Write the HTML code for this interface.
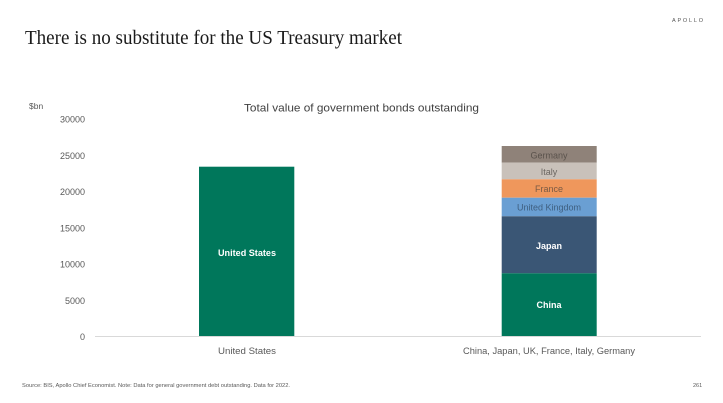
<!DOCTYPE html>
<html><head><meta charset="utf-8"><style>
html,body{margin:0;padding:0;background:#fff;}
svg{display:block;}
text{font-family:"Liberation Sans",sans-serif;}
</style></head><body>
<svg width="723" height="403" viewBox="0 0 723 403" xmlns="http://www.w3.org/2000/svg">
<rect width="723" height="403" fill="#fff"/>
<text x="25" y="44" font-family="Liberation Serif, serif" style="font-family:'Liberation Serif',serif" font-size="19.5" fill="#1a1a1a" textLength="377" lengthAdjust="spacingAndGlyphs">There is no substitute for the US Treasury market</text>
<text x="672" y="22" font-size="5.5" fill="#555" textLength="31" lengthAdjust="spacing">APOLLO</text>
<text x="244" y="111.5" font-size="11" fill="#404040" textLength="235" lengthAdjust="spacingAndGlyphs">Total value of government bonds outstanding</text>
<text x="29" y="109" font-size="8.5" fill="#595959">$bn</text>
<g font-size="9" fill="#595959" text-anchor="end">
<text x="85" y="122.5">30000</text>
<text x="85" y="158.8">25000</text>
<text x="85" y="195.1">20000</text>
<text x="85" y="231.4">15000</text>
<text x="85" y="267.7">10000</text>
<text x="85" y="304">5000</text>
<text x="85" y="340">0</text>
</g>
<line x1="95" y1="336.5" x2="701" y2="336.5" stroke="#d9d9d9" stroke-width="1"/>
<rect x="199" y="166.7" width="95.3" height="169.3" fill="#00775B"/>
<text x="247" y="256" font-size="9" font-weight="bold" fill="#fff" text-anchor="middle" textLength="58" lengthAdjust="spacingAndGlyphs">United States</text>
<rect x="501.7" y="146" width="95" height="16.7" fill="#8F8279"/>
<rect x="501.7" y="162.7" width="95" height="16.6" fill="#C9C1BA"/>
<rect x="501.7" y="179.3" width="95" height="18.4" fill="#EF975C"/>
<rect x="501.7" y="197.7" width="95" height="18.6" fill="#6A9FD3"/>
<rect x="501.7" y="216.3" width="95" height="57" fill="#3A5675"/>
<rect x="501.7" y="273.3" width="95" height="62.7" fill="#00775B"/>
<g font-size="9" text-anchor="middle">
<text x="549" y="158.3" fill="#5a524c">Germany</text>
<text x="549" y="174.8" fill="#6a6560">Italy</text>
<text x="549" y="191.8" fill="#7a5a44">France</text>
<text x="549" y="210.3" fill="#3f5f80">United Kingdom</text>
<text x="549" y="248.8" fill="#fff" font-weight="bold">Japan</text>
<text x="549" y="308" fill="#fff" font-weight="bold">China</text>
</g>
<text x="247" y="354" font-size="9" fill="#595959" text-anchor="middle" textLength="58" lengthAdjust="spacingAndGlyphs">United States</text>
<text x="549" y="354" font-size="9" fill="#595959" text-anchor="middle" textLength="172" lengthAdjust="spacingAndGlyphs">China, Japan, UK, France, Italy, Germany</text>
<text x="22" y="387" font-size="5.5" fill="#595959" textLength="268" lengthAdjust="spacingAndGlyphs">Source: BIS, Apollo Chief Economist. Note: Data for general government debt outstanding. Data for 2022.</text>
<text x="693" y="387" font-size="5.5" fill="#595959">261</text>
</svg>
</body></html>
